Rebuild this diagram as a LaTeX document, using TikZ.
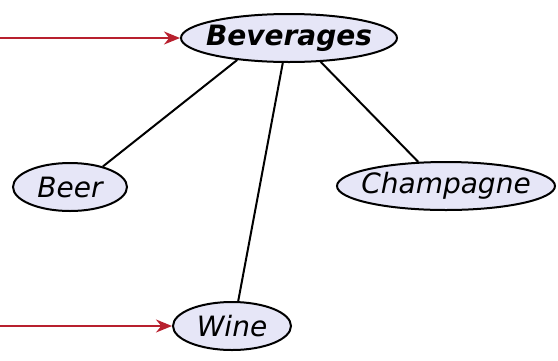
\documentclass[tikz,border=0pt]{standalone}
\usepackage{fontspec}
\setmainfont{DejaVu Sans}
\usetikzlibrary{shapes.geometric,arrows.meta}
\definecolor{nodefill}{HTML}{E6E6F7}
\definecolor{linkred}{HTML}{B8202E}
% labels take no width, so the ellipse size is set by minimum width/height alone
\newcommand{\conceptlabel}[1]{\makebox[0pt]{#1}}
\tikzset{
  concept/.style={ellipse, draw=black, line width=2pt, fill=nodefill, inner sep=0pt,
    minimum height=48pt, font=\fontsize{28}{28}\selectfont\itshape},
  relation/.style={draw=black, line width=2pt},
  pointer/.style={draw=linkred, line width=2pt, -{Stealth[length=16pt,width=13pt]}}
}
\begin{document}
\begin{tikzpicture}[x=1pt,y=-1pt]
  \useasboundingbox (0,0) rectangle (558,360);
  % concepts
  \node[concept, minimum width=216pt, font=\fontsize{28}{28}\selectfont\bfseries\itshape] (bev) at (289,38) {\conceptlabel{Beverages}};
  \node[concept, minimum width=114pt] (beer) at (70,187) {\conceptlabel{Beer}};
  \node[concept, minimum width=218pt] (champ) at (446,186) {\conceptlabel{Champagne}};
  \node[concept, minimum width=118pt] (wine) at (232,326) {\conceptlabel{Wine}};
  % relations
  \draw[relation] (bev.-157) -- (beer.32);
  \draw[relation] (bev.-104) -- (wine.76);
  \draw[relation] (bev.-37) -- (champ.139);
  % incoming pointers
  \coordinate (in1) at (0,38);
  \coordinate (in2) at (0,326);
  \draw[pointer] (in1) -- (bev.west);
  \draw[pointer] (in2) -- (wine.west);
\end{tikzpicture}
\end{document}
